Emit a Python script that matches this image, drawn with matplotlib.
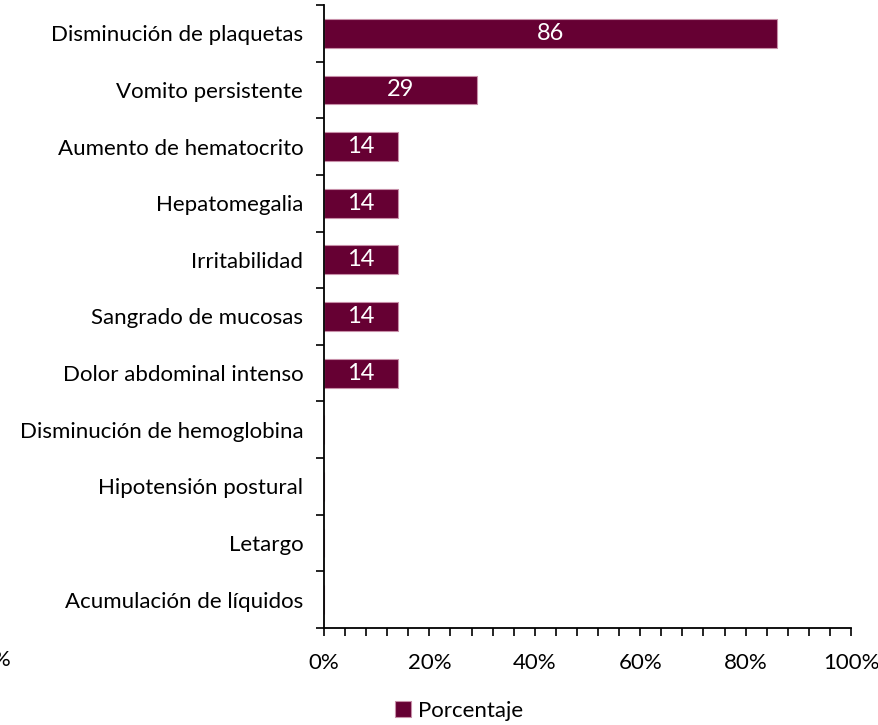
import matplotlib
matplotlib.use("Agg")
import matplotlib.pyplot as plt
from matplotlib.ticker import MultipleLocator, FixedLocator, FuncFormatter

categories = ["Disminución de plaquetas", "Vomito persistente", "Aumento de hematocrito",
              "Hepatomegalia", "Irritabilidad", "Sangrado de mucosas", "Dolor abdominal intenso",
              "Disminución de hemoglobina", "Hipotensión postural", "Letargo",
              "Acumulación de líquidos"]
values = [86, 29, 14, 14, 14, 14, 14, 0, 0, 0, 0]
labels = ["86", "29", "14", "14", "14", "14", "14", "", "", "", ""]
series_name = "Porcentaje"

FS = 16
plt.rcParams['font.family'] = ['Lato', 'DejaVu Sans']
fig = plt.figure(figsize=(8.79, 7.25), dpi=100)
ax = fig.add_axes([324/879, 1-628/725, (851-324)/879, (628-5)/725])

n = len(categories)
ypos = list(range(n))
color = "#660033"
bars = ax.barh(ypos, [v/100 for v in values], height=0.51, color=color,
               edgecolor="#c78fa8", linewidth=0.8, label=series_name)
for b, lab in zip(bars, labels):
    if lab:
        ax.text(b.get_x() + b.get_width()/2, b.get_y() + b.get_height()/2, lab,
                ha="center", va="center", color="white", fontsize=FS+1)

ax.set_ylim(n-0.5, -0.5)
ax.set_xlim(0, 1)
ax.set_yticks(ypos)
ax.set_yticklabels(categories, fontsize=FS)
ax.tick_params(axis="y", which="major", length=0, pad=15)
ax.yaxis.set_minor_locator(FixedLocator([i-0.5 for i in range(n+1)]))
ax.tick_params(axis="y", which="minor", length=6, width=1.2, direction="out")

ax.xaxis.set_major_locator(MultipleLocator(0.2))
ax.xaxis.set_minor_locator(MultipleLocator(0.04))
ax.xaxis.set_major_formatter(FuncFormatter(lambda x, p: f"{x*100:.0f}%"))
ax.tick_params(axis="x", which="both", length=6, width=1.2, direction="out", labelsize=FS, pad=12)

for s in ["top", "right"]:
    ax.spines[s].set_visible(False)
for s in ["left", "bottom"]:
    ax.spines[s].set_linewidth(1.3)

fig.text(11/879, 1-660/725, "0%", ha="right", va="center", fontsize=FS)

fig.legend(handles=[bars], labels=[series_name], loc="center", bbox_to_anchor=(459/879, 1-711/725),
           frameon=False, fontsize=FS, handlelength=0.7, handleheight=0.7, handletextpad=0.3)

fig.savefig("out.png", dpi=100)
